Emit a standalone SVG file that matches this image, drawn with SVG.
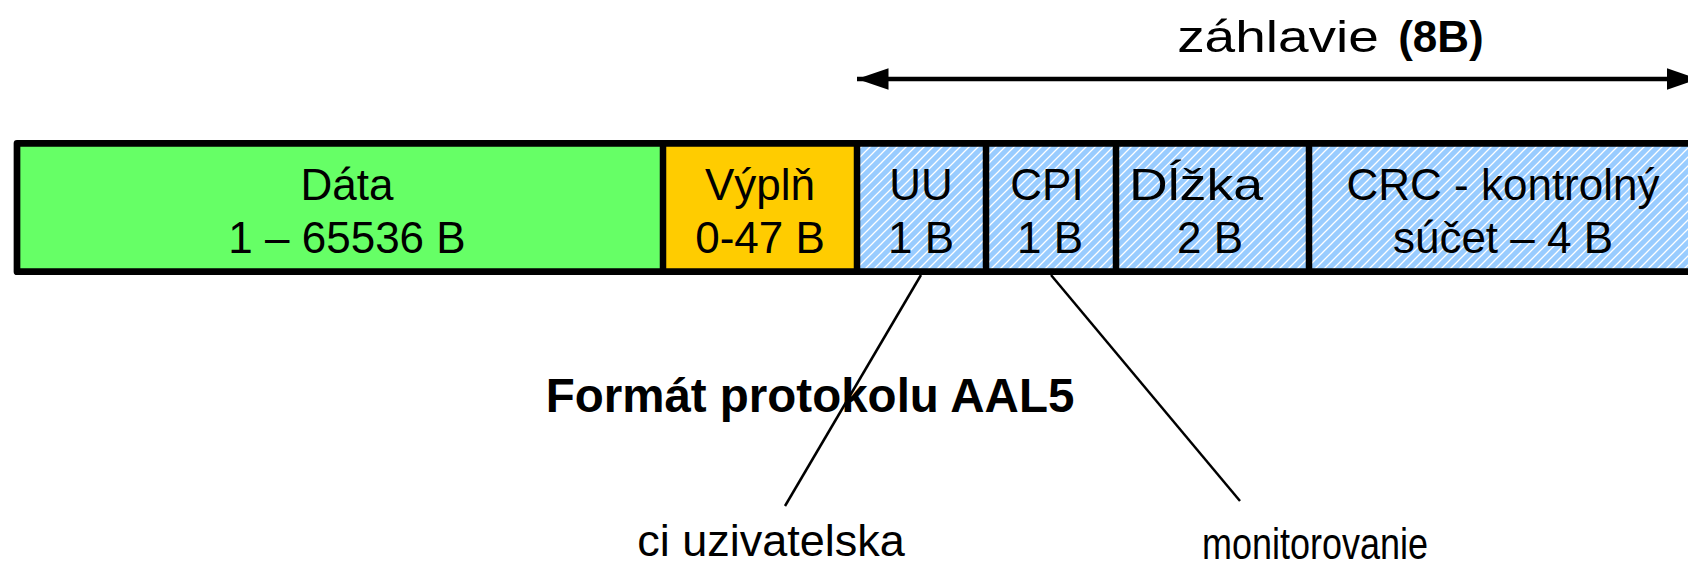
<svg xmlns="http://www.w3.org/2000/svg" width="1688" height="563" viewBox="0 0 1688 563">
<style>
.t{font-family:"Liberation Sans",Arial,sans-serif;fill:#000;text-anchor:middle}
.box{font-size:44px}
.frame{stroke:#000;stroke-width:6.7;stroke-linejoin:round}
.div{stroke:#000;stroke-width:6.5}
.conn{stroke:#000;stroke-width:2.5;fill:none}
</style>
<defs>
<pattern id="hatch" patternUnits="userSpaceOnUse" width="9" height="9">
<rect width="9" height="9" fill="#99CCFF"/>
<path d="M-2,2 L2,-2 M0,9 L9,0 M7,11 L11,7" stroke="#FFFFFF" stroke-width="1.3"/>
</pattern>
<marker id="ah" viewBox="0 0 10 10" refX="10" refY="5" markerWidth="7" markerHeight="4.8" markerUnits="strokeWidth" orient="auto-start-reverse" preserveAspectRatio="none">
<path d="M0,0 L10,5 L0,10 Z" fill="#000"/>
</marker>
</defs>
<g id="frame">
<rect x="663" y="143.3" width="194" height="128.4" fill="#FFCC00"/>
<rect x="17" y="143.3" width="646" height="128.4" fill="#66FF66"/>
<rect x="857" y="143.3" width="840" height="128.4" fill="url(#hatch)"/>
<path class="frame" d="M1700,143.3 H17 V271.7 H1700" fill="none"/>
</g>
<g id="node-data">
<line class="div" x1="663" y1="143.3" x2="663" y2="271.7"/>
<text class="t box" x="347" y="200">Dáta</text>
<text class="t box" x="347" y="253">1 – 65536 B</text>
</g>
<g id="node-vypln">
<line class="div" x1="857" y1="143.3" x2="857" y2="271.7"/>
<text class="t box" x="760" y="200">Výplň</text>
<text class="t box" x="760" y="253">0-47 B</text>
</g>
<g id="node-uu">
<line class="div" x1="986" y1="143.3" x2="986" y2="271.7"/>
<text class="t box" x="921" y="200">UU</text>
<text class="t box" x="921" y="253">1 B</text>
</g>
<g id="node-cpi">
<line class="div" x1="1116" y1="143.3" x2="1116" y2="271.7"/>
<text class="t box" x="1047" y="200">CPI</text>
<text class="t box" x="1050" y="253">1 B</text>
</g>
<g id="node-dlzka">
<line class="div" x1="1309" y1="143.3" x2="1309" y2="271.7"/>
<text class="t box" transform="translate(1196,200) scale(1.22,1)" x="0" y="0">Dĺžka</text>
<text class="t box" x="1210" y="253">2 B</text>
</g>
<g id="node-crc">
<text class="t box" x="1503" y="200">CRC - kontrolný</text>
<text class="t box" x="1503" y="253">súčet – 4 B</text>
</g>
<g id="header-label">
<text class="t" transform="translate(1278,52) scale(1.25,1)" x="0" y="0" font-size="44">záhlavie</text>
<text class="t" x="1441" y="52" font-size="44" font-weight="bold">(8B)</text>
</g>
<g id="title">
<text class="t" x="810" y="412" font-size="47.5" font-weight="bold">Formát protokolu AAL5</text>
</g>
<g id="note-uu">
<text class="t" x="771" y="556" font-size="45">ci uzivatelska</text>
</g>
<g id="note-cpi">
<text class="t" transform="translate(1315,559) scale(0.8,1)" x="0" y="0" font-size="45">monitorovanie</text>
</g>
<g id="connectors">
<line x1="857" y1="79" x2="1698" y2="79" stroke="#000" stroke-width="4.5" marker-start="url(#ah)" marker-end="url(#ah)"/>
<line class="conn" x1="921" y1="275" x2="785" y2="506"/>
<line class="conn" x1="1051" y1="275" x2="1240" y2="501"/>
</g>
</svg>
